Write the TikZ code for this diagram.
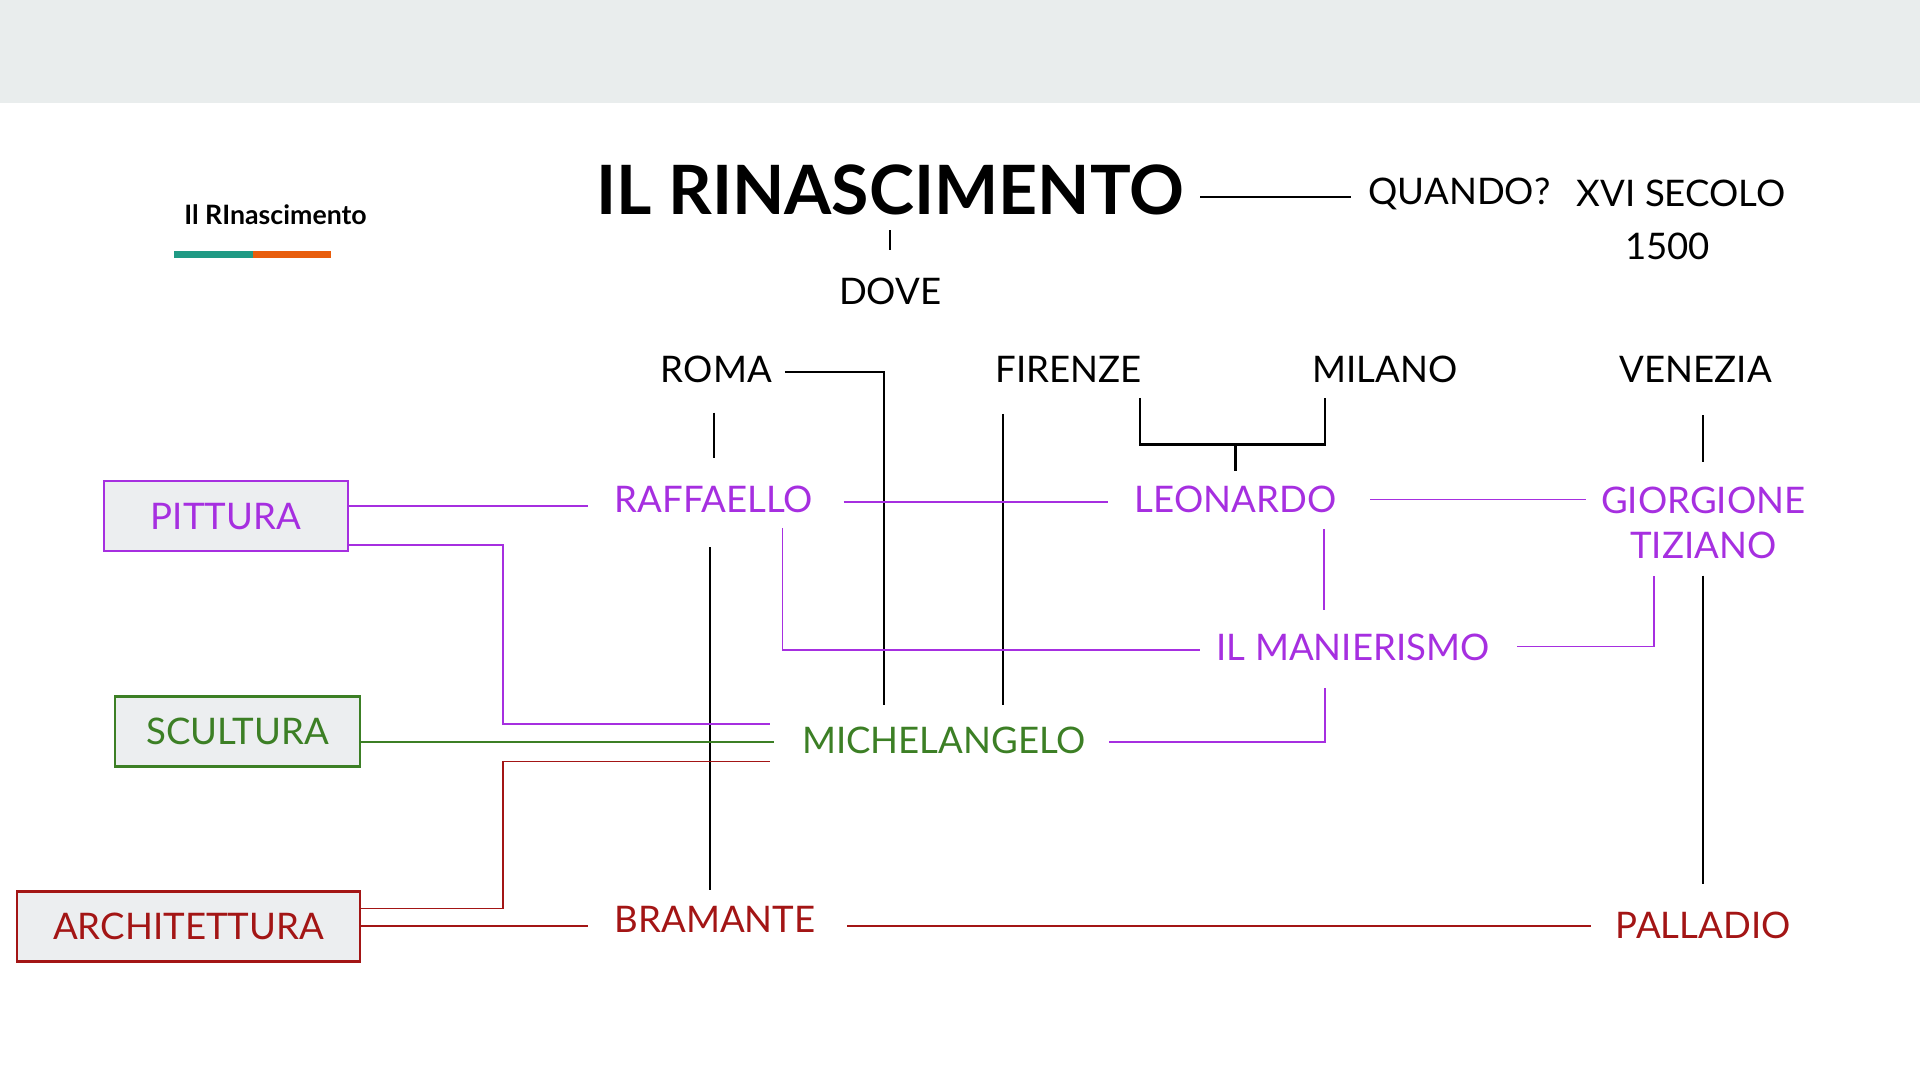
\documentclass[tikz,border=0pt]{standalone}
\usepackage{fontspec}
\setmainfont{Lato}
\usetikzlibrary{positioning}
\definecolor{headgray}{HTML}{E9EDED}
\definecolor{boxgray}{HTML}{ECEEF0}
\definecolor{viola}{HTML}{A62FE0}
\definecolor{verde}{HTML}{3C7F25}
\definecolor{rosso}{HTML}{A31515}
\definecolor{teal}{HTML}{1F9A84}
\definecolor{arancio}{HTML}{E85D0C}
\tikzset{%
  % Specifications for style of nodes:
     label/.style = {font=\fontsize{8.5}{10}\selectfont, inner sep=1pt, align=center},
    pittore/.style = {label, text=viola},
   scultore/.style = {label, text=verde},
  architetto/.style = {label, text=rosso},
      arte/.style = {rectangle, fill=boxgray, line width=0.6pt, font=\fontsize{8.5}{10}\selectfont},
     nero/.style = {draw=black, line width=0.5pt},
}
\begin{document}
\begin{tikzpicture}[x=0.01cm, y=-0.01cm]
  \useasboundingbox (0,0) rectangle (1568,882);
  \fill[headgray] (0,0) rectangle (1568,84);
  % header
  \node (small) at (225,175) {\fontsize{6.2}{7}\selectfont\bfseries Il RInascimento};
  \fill[teal] (142,205) rectangle (207,211);
  \fill[arancio] (207,205) rectangle (270,211);
  \node (title) at (727,155) {\fontsize{15.8}{18}\selectfont\bfseries IL RINASCIMENTO};
  \node[label] (quando) at (1192,158) {QUANDO?};
  \node[label] (secolo) at (1373,158) {XVI SECOLO};
  \node[label] (anno) at (1362,201) {1500};
  \node[label] (dove) at (727,238) {DOVE};
  % cities
  \node[label] (roma) at (585,302) {ROMA};
  \node[label] (firenze) at (873,302) {FIRENZE};
  \node[label] (milano) at (1131,302) {MILANO};
  \node[label] (venezia) at (1385,302) {VENEZIA};
  % artists
  \node[pittore] (raffaello) at (583,408) {RAFFAELLO};
  \node[pittore] (leonardo) at (1009,408) {LEONARDO};
  \node[pittore, font=\fontsize{8.5}{10.6}\selectfont] (giorgione) at (1391,427) {GIORGIONE\\TIZIANO};
  \node[pittore] (manierismo) at (1105,529) {IL MANIERISMO};
  \node[scultore] (michelangelo) at (771,605) {MICHELANGELO};
  \node[architetto] (bramante) at (584,751) {BRAMANTE};
  \node[architetto] (palladio) at (1391,756) {PALLADIO};
  % arts
  \node[arte, draw=viola, text=viola, minimum width=1.99cm, minimum height=0.57cm] (pittura) at (184.5,421.5) {PITTURA};
  \node[arte, draw=verde, text=verde, minimum width=2.0cm, minimum height=0.57cm] (scultura) at (194,597.5) {SCULTURA};
  \node[arte, draw=rosso, text=rosso, minimum width=2.8cm, minimum height=0.57cm] (architettura) at (154,756.5) {ARCHITETTURA};
  % black connectors
  \draw[nero] (980,161) -- (1103,161);
  \draw[nero] (727,188) -- (727,204);
  \draw[nero] (641,304) -- (722,304) -- (722,576);
  \draw[nero] (583,337) -- (583,374);
  \draw[nero] (819,338) -- (819,576);
  \draw[nero] (931,325) -- (931,363) -- (1082,363) -- (1082,325);
  \draw[nero] (1009,363) -- (1009,385);
  \draw[nero] (1391,339) -- (1391,377);
  \draw[nero] (580,447) -- (580,727);
  \draw[nero] (1391,470) -- (1391,722);
  % purple connectors
  \draw[viola] (pittura.east |- 0,413) -- (480,413);
  \draw[viola] (pittura.east |- 0,445) -- (411,445) -- (411,591) -- (629,591);
  \draw[viola] (689,410) -- (905,410);
  \draw[viola] (1119,408) -- (1295,408);
  \draw[viola] (1081,432) -- (1081,498);
  \draw[viola] (639,431) -- (639,531) -- (980,531);
  \draw[viola] (1239,528) -- (1351,528) -- (1351,470);
  \draw[viola] (1082,562) -- (1082,606) -- (906,606);
  % green connector
  \draw[verde] (scultura.east |- 0,606) -- (632,606);
  % red connectors
  \draw[rosso] (architettura.east |- 0,742) -- (411,742) -- (411,622) -- (629,622);
  \draw[rosso] (architettura.east |- 0,756) -- (480,756);
  \draw[rosso] (692,756) -- (1299,756);
\end{tikzpicture}
\end{document}
